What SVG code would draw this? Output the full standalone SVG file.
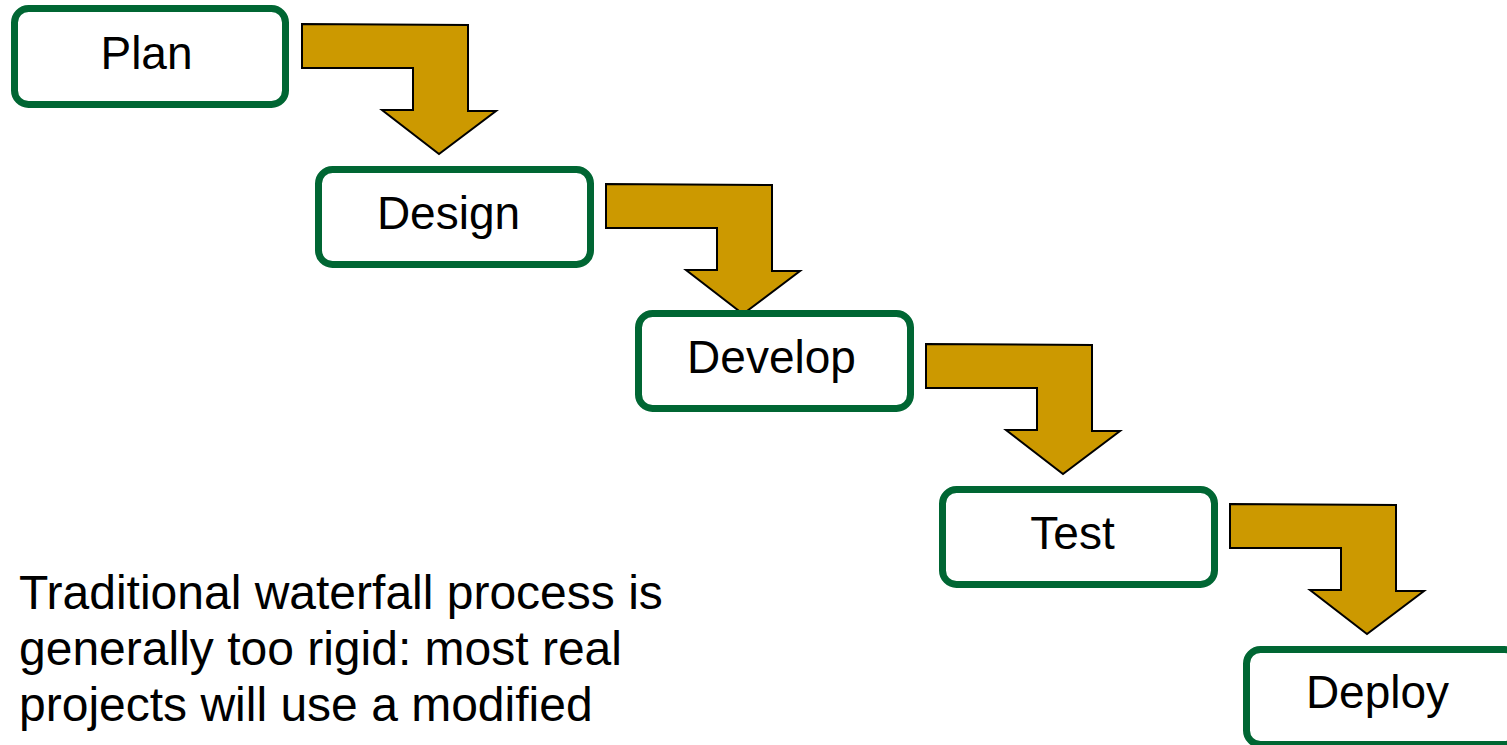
<svg xmlns="http://www.w3.org/2000/svg" width="1507" height="745" viewBox="0 0 1507 745">
<defs>
<style>
.box{fill:#ffffff;stroke:#006633;stroke-width:7}
.lbl{font-family:"Liberation Sans",Arial,sans-serif;font-size:46px;fill:#000000;text-anchor:middle}
.arrow{fill:#CC9900;stroke:#000000;stroke-width:2;stroke-linejoin:miter}
.note{font-family:"Liberation Sans",Arial,sans-serif;font-size:48px;fill:#000000}
</style>
<polygon id="bend" class="arrow" points="0,0 166,1 166,87 194,87 137,130 80,86 111,86 111,44 0,44"/>
</defs>
<rect width="1507" height="745" fill="#ffffff"/>
<g id="connectors">
<use href="#bend" x="302" y="24"/>
<use href="#bend" x="606" y="184"/>
<use href="#bend" x="926" y="344"/>
<use href="#bend" x="1230" y="504"/>
</g>
<g id="plan">
<rect class="box" x="14.5" y="8.5" width="271" height="96" rx="14"/>
<text class="lbl" x="146.5" y="69">Plan</text>
</g>
<g id="design">
<rect class="box" x="318.5" y="169.5" width="272" height="95" rx="14"/>
<text class="lbl" x="448.5" y="229">Design</text>
</g>
<g id="develop">
<rect class="box" x="638.5" y="313.5" width="272" height="95" rx="14"/>
<text class="lbl" x="771.5" y="373">Develop</text>
</g>
<g id="test">
<rect class="box" x="942.5" y="489.5" width="272" height="95" rx="14"/>
<text class="lbl" x="1072.5" y="549">Test</text>
</g>
<g id="deploy">
<rect class="box" x="1246.5" y="649.5" width="272" height="95" rx="14"/>
<text class="lbl" x="1377.5" y="708">Deploy</text>
</g>
<g id="note">
<text class="note" x="19" y="609">Traditional waterfall process is</text>
<text class="note" x="19" y="665">generally too rigid: most real</text>
<text class="note" x="19" y="721">projects will use a modified</text>
</g>
</svg>
